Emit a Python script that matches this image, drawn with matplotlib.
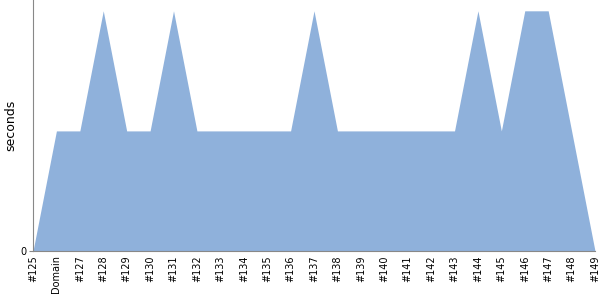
import matplotlib
matplotlib.use("Agg")
import matplotlib.pyplot as plt

labels = ["#125", "Domain", "#127", "#128", "#129", "#130", "#131", "#132", "#133",
          "#134", "#135", "#136", "#137", "#138", "#139", "#140", "#141", "#142",
          "#143", "#144", "#145", "#146", "#147", "#148", "#149"]
values = [0, 1, 1, 2, 1, 1, 2, 1, 1, 1, 1, 1, 2, 1, 1, 1, 1, 1, 1, 2, 1, 2, 2, 1, 0]

fig = plt.figure(figsize=(6, 3), dpi=100)
ax = fig.add_axes([0.055, 0.1633, 0.9367, 0.8367])
x = list(range(len(labels)))
ax.fill_between(x, values, 0, color="#8fb1db", linewidth=0)
ax.set_xlim(0, len(labels) - 1)
ax.set_ylim(0, 2.09)
ax.set_xticks(x)
ax.set_xticklabels(labels, rotation=90, fontsize=7)
ax.set_yticks([0])
ax.set_yticklabels(["0"], fontsize=7)
ax.set_ylabel("seconds", fontsize=9, labelpad=2)
for s in ["top", "right"]:
    ax.spines[s].set_visible(False)
for s in ["left", "bottom"]:
    ax.spines[s].set_color("#888888")
    ax.spines[s].set_linewidth(0.8)
ax.tick_params(axis="x", length=0, pad=3)
ax.tick_params(axis="y", length=3, color="#888888", pad=2)
fig.savefig("out.png", dpi=100)
